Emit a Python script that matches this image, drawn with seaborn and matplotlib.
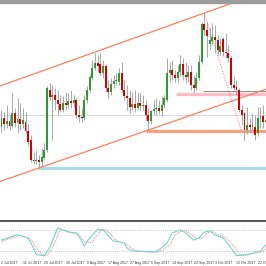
import numpy as np
import pandas as pd
import matplotlib
matplotlib.use("Agg")
import matplotlib.pyplot as plt
import seaborn as sns

# ---------------- data (screen-level price scale) ----------------
bars = list(range(100))
opens = [127,118,124,121,126,113,123,119,124,122, 131,140,160,161,160,162,158,150,90,97,
         95,100,104,110,103,105,101,103,100,115, 117,118,100,90,78,68,63,64,73,66,
         88,92,84,81,82,73,90,96,98,107, 104,108,103,106,105,115,121,111,109,108,
         111,105,100,73,70,75,78,72,64,75, 77,72,85,88,78,62,24,30,44,41,
         37,40,52,39,52,53,58,85,87,90, 110,113,130,125,127,127,133,118,116,122]
highs = [110,112,105,115,93,108,98,103,108,112, 124,135,152,150,155,148,143,86,83,85,
         88,90,95,96,92,93,90,95,98,105, 108,95,86,74,60,53,55,53,60,64,
         80,78,75,73,68,62,80,85,90,92, 90,92,93,95,100,108,110,100,98,100,
         96,95,58,62,60,70,65,55,58,62, 65,65,75,72,55,22,13,22,28,23,
         25,35,38,37,33,45,56,76,80,88, 105,112,107,118,113,115,107,107,105,110]
lows = [132,130,128,130,128,127,133,130,128,133, 145,162,164,164,168,166,160,152,100,140,
        110,115,112,112,110,108,108,107,118,122, 122,120,103,92,80,70,72,75,78,92,
        98,95,88,85,85,92,100,110,113,110, 112,110,110,110,120,130,124,114,115,114,
        116,108,102,82,80,82,82,76,80,83, 82,90,92,90,80,64,35,57,50,45,
        53,55,55,56,58,62,88,90,94,112, 125,140,134,132,131,140,136,128,128,126]
closes = [118,124,121,126,113,123,119,124,120,131, 142,160,161,160,162,157,150,88,97,95,
          100,104,110,103,105,101,103,100,115,117, 118,100,90,77,68,63,66,73,66,88,
          92,84,81,80,73,90,96,98,107,104, 108,103,106,105,115,121,111,109,108,111,
          105,98,73,70,75,78,72,64,75,77, 72,85,88,78,62,24,30,36,40,37,
          40,50,46,52,53,58,85,88,90,110, 115,130,125,127,124,135,118,116,122,120]

# stochastic oscillator (main and signal)
stoch_main_bar = [0,6,10,12,13,16,18,21,22,25,28,29,31,33,36,38,40,42,46,47,49,57,59,62,64,67,69,72,74,76,78,80,83,86,88,92,97,99]
stoch_main_val = [51,66,57,29,11,8,29,84,82,73,71,61,35,57,80,80,62,48,43,29,21,18,24,43,71,79,71,51,57,73,76,65,57,29,8,11,21,38]
stoch_sig_bar = [0,7,11,13,15,17,19,22,23,26,29,31,34,37,39,41,43,47,48,50,58,60,63,65,68,70,73,75,77,79,81,84,87,89,91,93,98,99]
stoch_sig_val = [47,64,52,30,12,9,28,80,80,72,66,45,45,76,80,66,50,40,32,22,17,22,38,66,78,72,55,55,70,76,66,58,35,12,9,12,20,28]
stoch_levels = [80, 20]

# annotations
upper_channel = [(-0.56, 86), (76, 13)]
lower_channel = [(14, 168), (55, 130)]
cyan_level, cyan_start = 167.5, 13.8
orange_level, orange_start = 130.5, 54
pink_level, pink_start = 93.5, 65.5
grey_level, grey_start = 91, 75.5
price_line = 115
swing_line = [(76, 13), (89.7, 130)]

tick_bars = [0, 8, 16, 24, 32, 40, 48, 56, 64, 72, 80, 88, 96]
tick_labels = ["2 Jul 2017", "11 Jul 2017", "20 Jul 2017", "30 Jul 2017", "8 Aug 2017",
               "17 Aug 2017", "27 Aug 2017", "5 Sep 2017", "14 Sep 2017", "24 Sep 2017",
               "3 Oct 2017", "12 Oct 2017", "22 Oct 2017"]

# ---------------- figure ----------------
sns.set_style("white")
plt.rcParams['font.family'] = ['Liberation Sans Narrow', 'Liberation Sans', 'DejaVu Sans']

fig = plt.figure(figsize=(2.66, 2.66), dpi=100)
fig.patch.set_facecolor("white")
H = 266.0
XL = (-0.56, 99.06)

# top grey strip
fig.patches.append(plt.Rectangle((0, (H - 3) / H), 1, 3 / H, transform=fig.transFigure,
                                 color="#9c9c9c", zorder=0))

ax = fig.add_axes([0, (H - 220) / H, 1, 217 / H])
ax.set_xlim(*XL)
ax.set_ylim(220, 3)
ax.axis("off")

df = pd.DataFrame({"bar": bars, "open": opens, "high": highs, "low": lows, "close": closes})
df["up"] = df["close"] < df["open"]

# reference lines / zones
ax.axhline(price_line, color="#d9d9d9", lw=0.7, zorder=1)
ax.hlines(cyan_level, cyan_start, XL[1], color="#a9dde3", lw=2.3, zorder=1)
ax.hlines(orange_level, orange_start, XL[1], color="#f9a07e", lw=2.3, zorder=1)
ax.hlines(pink_level, pink_start, XL[1], color="#ffbcc8", lw=2.3, zorder=1)
ax.hlines(grey_level, grey_start, XL[1], color="#777777", lw=0.6, zorder=1)
ax.axline(upper_channel[0], upper_channel[1], color="#fb7f5f", lw=0.9, zorder=2)
ax.axline(lower_channel[0], lower_channel[1], color="#fb7f5f", lw=0.9, zorder=2)
ax.plot([p[0] for p in swing_line], [p[1] for p in swing_line], color="#f37a6a",
        lw=0.7, ls=(0, (1, 1.5)), zorder=2)

# candles
ax.vlines(df["bar"], df["high"], df["low"], color="#9a9a9a", lw=0.6, zorder=3)
body_bottom = np.minimum(df["open"], df["close"])
body_h = np.maximum(np.abs(df["open"] - df["close"]), 0.8)
colors = np.where(df["up"], "#2f9a2f", "#d20000")
ax.bar(df["bar"], body_h, bottom=body_bottom, width=0.72, color=colors, lw=0, zorder=4)

# oscillator panel
ax2 = fig.add_axes([0, (H - 258) / H, 1, 37 / H])
ax2.set_xlim(*XL)
ax2.set_ylim(1.65, 103.6)
for lv in stoch_levels:
    ax2.axhline(lv, color="#b5b5b5", lw=0.6, ls=(0, (1, 1.5)))
main_df = pd.DataFrame({"bar": stoch_main_bar, "val": stoch_main_val})
sig_df = pd.DataFrame({"bar": stoch_sig_bar, "val": stoch_sig_val})
sns.lineplot(data=sig_df, x="bar", y="val", ax=ax2, color="#f47c7c", lw=0.7,
             linestyle=(0, (1, 1)), estimator=None)
sns.lineplot(data=main_df, x="bar", y="val", ax=ax2, color="#6fd6d0", lw=0.8, estimator=None)
ax2.set_xlabel("")
ax2.set_ylabel("")
ax2.set_yticks([])
for s in ["left", "right", "bottom"]:
    ax2.spines[s].set_visible(False)
ax2.spines["top"].set_color("#555555")
ax2.spines["top"].set_linewidth(1.4)
ax2.set_xticks(tick_bars)
ax2.set_xticklabels(tick_labels, fontsize=2.5, color="#333333", ha="left")
ax2.tick_params(axis="x", length=1.5, width=0.5, pad=0.6, color="#555555", direction="out")

fig.savefig("out.png", dpi=100, facecolor="white")
